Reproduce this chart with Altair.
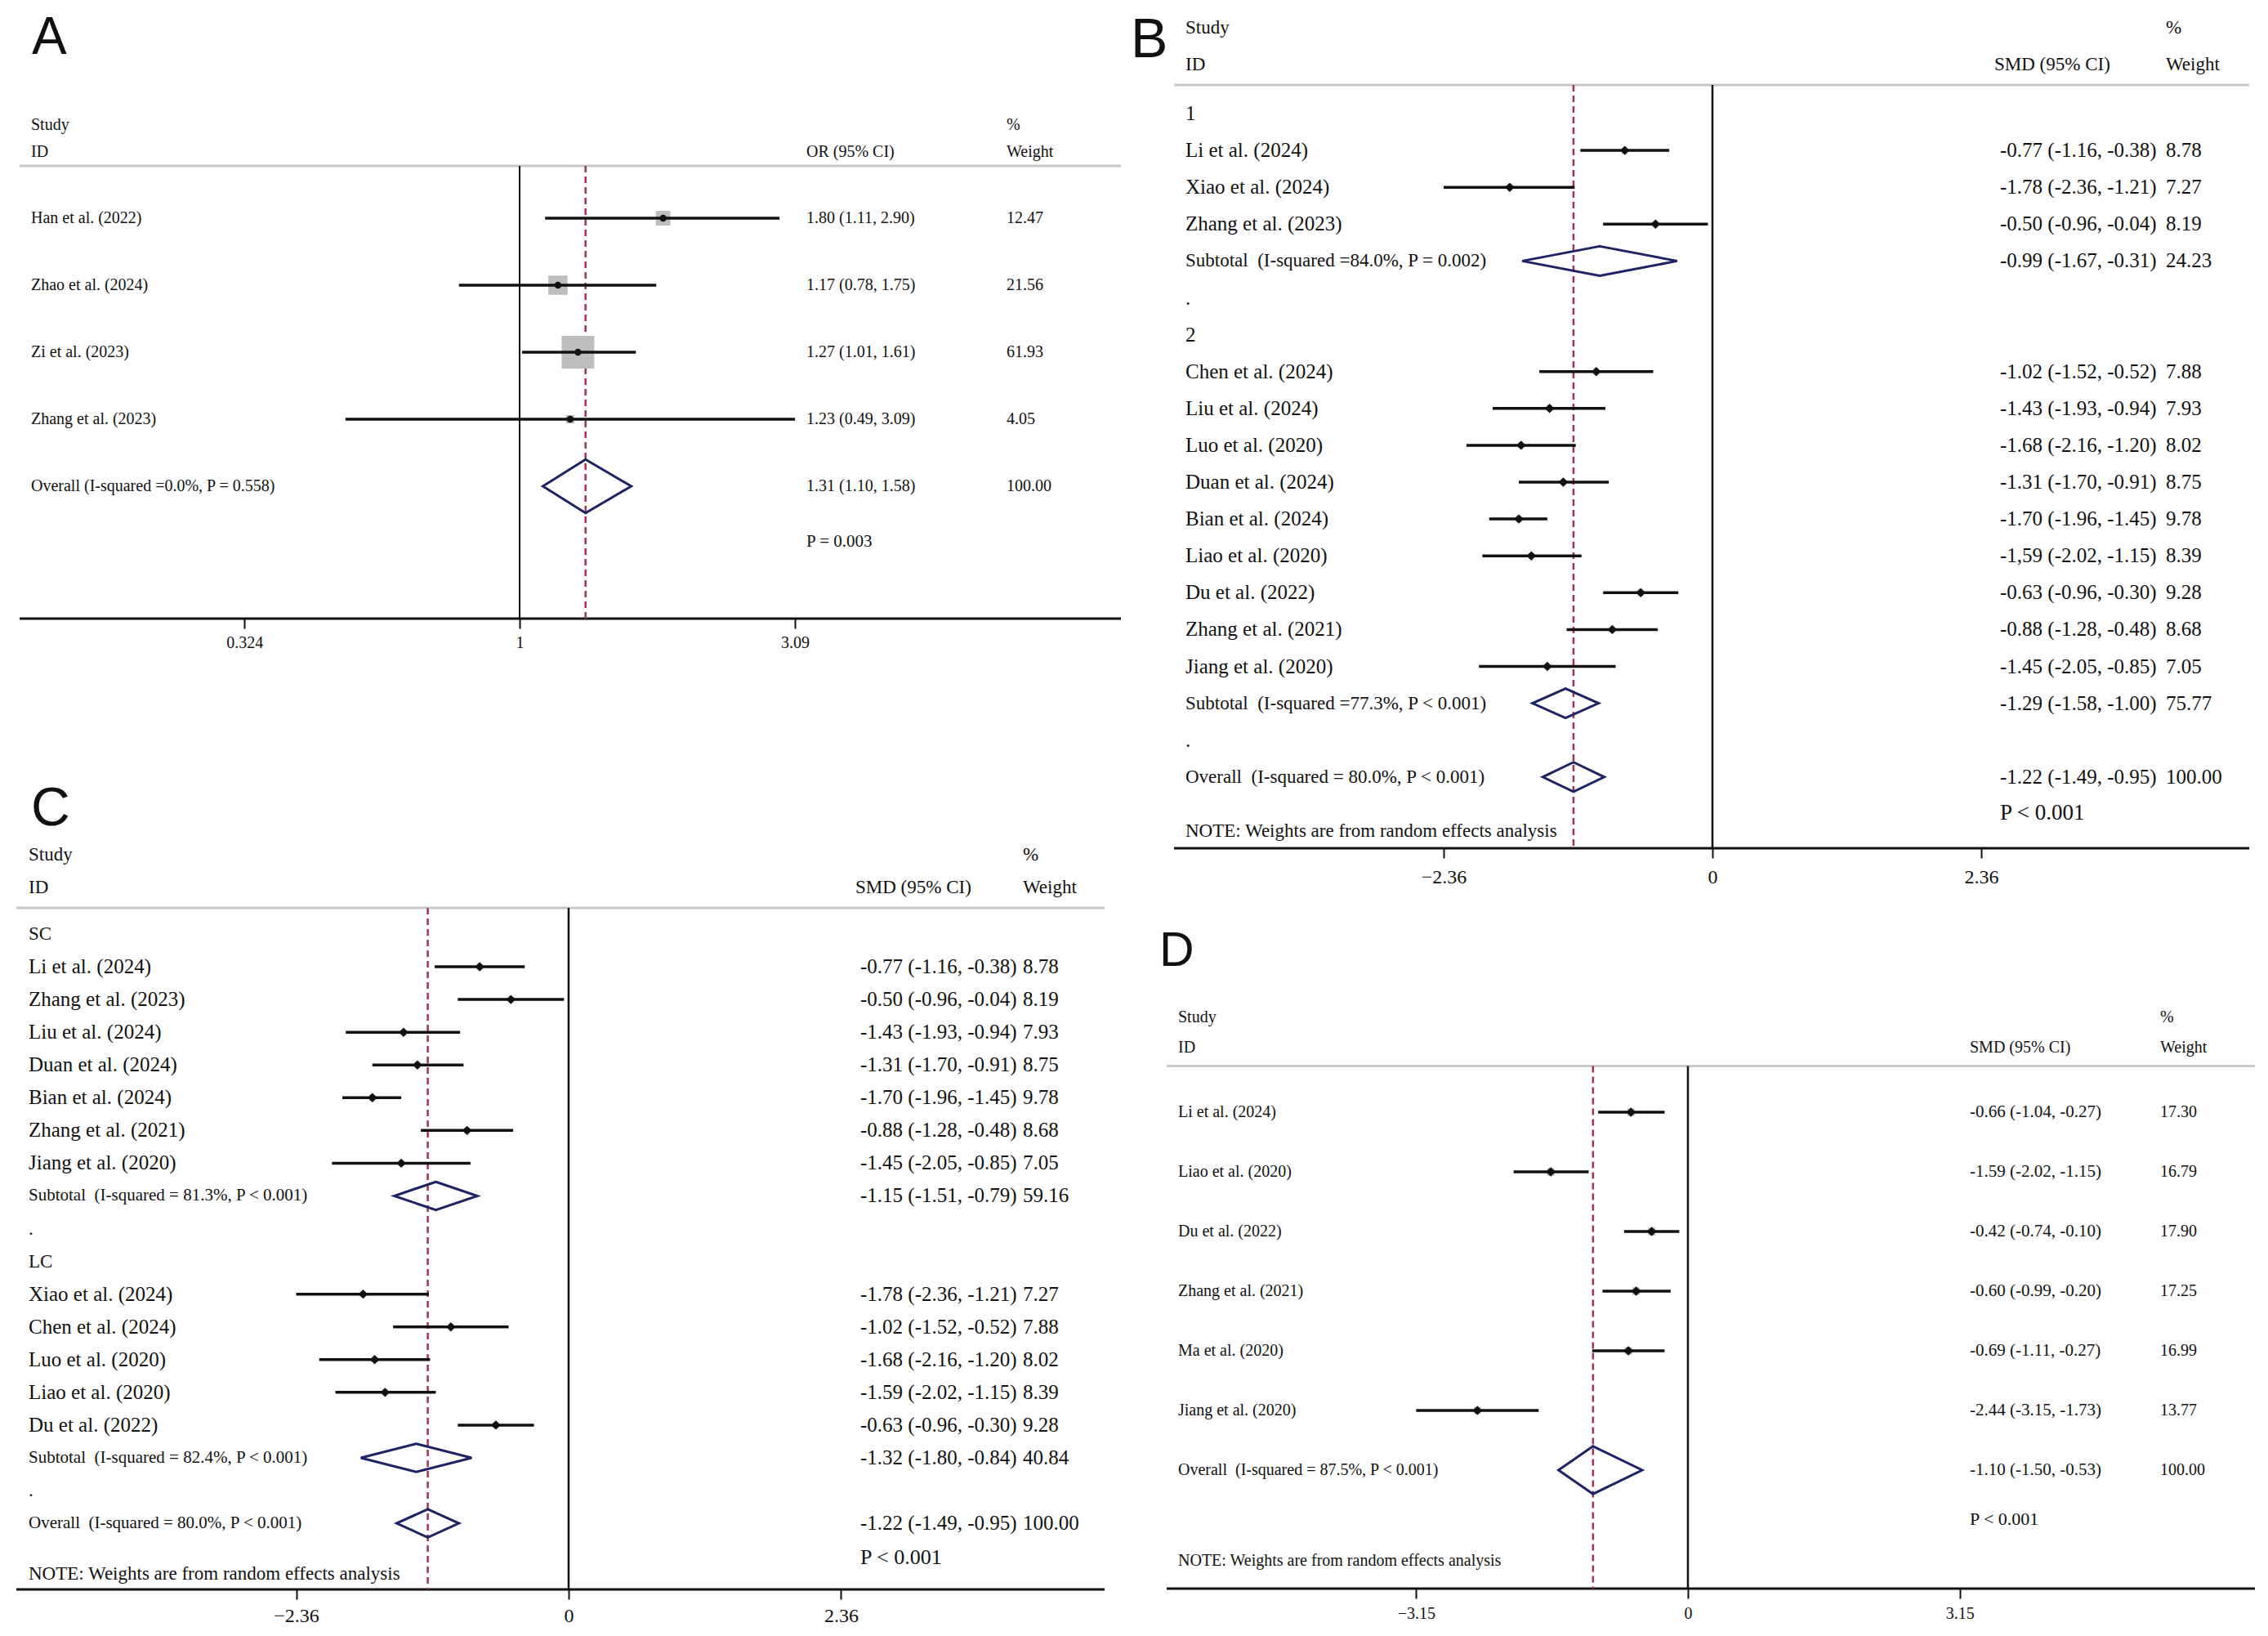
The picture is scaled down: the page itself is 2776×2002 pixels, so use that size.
import altair as alt
import pandas as pd

SERIF = "Liberation Serif"
SANS = "Liberation Sans"
INK = "#111111"
RED = "#a8324e"
NAVY = "#1d2463"
GRAYSQ = "#bdbdbd"
HEADLINE = "#c8c8c8"
NBSP2 = "\u00a0 "

# ---------------- Panel A (OR, log scale) ----------------
A_studies = ["Han et al. (2022)", "Zhao et al. (2024)", "Zi et al. (2023)", "Zhang et al. (2023)"]
A_est = [1.80, 1.17, 1.27, 1.23]
A_lo = [1.11, 0.78, 1.01, 0.49]
A_hi = [2.90, 1.75, 1.61, 3.09]
A_w = [12.47, 21.56, 61.93, 4.05]
A_overall = [1.31, 1.10, 1.58, 100.00]
A_overall_label = "Overall (I-squared =0.0%, P = 0.558)"
A_p = "P = 0.003"
A_ticks = [0.324, 1, 3.09]

# ---------------- Panel B ----------------
B_g1_studies = ["Li et al. (2024)", "Xiao et al. (2024)", "Zhang et al. (2023)"]
B_g1_est = [-0.77, -1.78, -0.50]
B_g1_lo = [-1.16, -2.36, -0.96]
B_g1_hi = [-0.38, -1.21, -0.04]
B_g1_w = [8.78, 7.27, 8.19]
B_g1_sub = [-0.99, -1.67, -0.31, 24.23]
B_g1_label = "Subtotal" + NBSP2 + "(I-squared =84.0%, P = 0.002)"
B_g2_studies = ["Chen et al. (2024)", "Liu et al. (2024)", "Luo et al. (2020)", "Duan et al. (2024)",
                "Bian et al. (2024)", "Liao et al. (2020)", "Du et al. (2022)", "Zhang et al. (2021)",
                "Jiang et al. (2020)"]
B_g2_est = [-1.02, -1.43, -1.68, -1.31, -1.70, -1.59, -0.63, -0.88, -1.45]
B_g2_lo = [-1.52, -1.93, -2.16, -1.70, -1.96, -2.02, -0.96, -1.28, -2.05]
B_g2_hi = [-0.52, -0.94, -1.20, -0.91, -1.45, -1.15, -0.30, -0.48, -0.85]
B_g2_w = [7.88, 7.93, 8.02, 8.75, 9.78, 8.39, 9.28, 8.68, 7.05]
B_g2_sub = [-1.29, -1.58, -1.00, 75.77]
B_g2_label = "Subtotal" + NBSP2 + "(I-squared =77.3%, P < 0.001)"
B_overall = [-1.22, -1.49, -0.95, 100.00]
B_overall_label = "Overall" + NBSP2 + "(I-squared = 80.0%, P < 0.001)"
B_ci_as_printed = {"Liao et al. (2020)": "-1,59 (-2.02, -1.15)"}
B_p = "P < 0.001"
B_ticks = [-2.36, 0, 2.36]

# ---------------- Panel C ----------------
C_g1_studies = ["Li et al. (2024)", "Zhang et al. (2023)", "Liu et al. (2024)", "Duan et al. (2024)",
                "Bian et al. (2024)", "Zhang et al. (2021)", "Jiang et al. (2020)"]
C_g1_est = [-0.77, -0.50, -1.43, -1.31, -1.70, -0.88, -1.45]
C_g1_lo = [-1.16, -0.96, -1.93, -1.70, -1.96, -1.28, -2.05]
C_g1_hi = [-0.38, -0.04, -0.94, -0.91, -1.45, -0.48, -0.85]
C_g1_w = [8.78, 8.19, 7.93, 8.75, 9.78, 8.68, 7.05]
C_g1_sub = [-1.15, -1.51, -0.79, 59.16]
C_g1_label = "Subtotal" + NBSP2 + "(I-squared = 81.3%, P < 0.001)"
C_g2_studies = ["Xiao et al. (2024)", "Chen et al. (2024)", "Luo et al. (2020)", "Liao et al. (2020)",
                "Du et al. (2022)"]
C_g2_est = [-1.78, -1.02, -1.68, -1.59, -0.63]
C_g2_lo = [-2.36, -1.52, -2.16, -2.02, -0.96]
C_g2_hi = [-1.21, -0.52, -1.20, -1.15, -0.30]
C_g2_w = [7.27, 7.88, 8.02, 8.39, 9.28]
C_g2_sub = [-1.32, -1.80, -0.84, 40.84]
C_g2_label = "Subtotal" + NBSP2 + "(I-squared = 82.4%, P < 0.001)"
C_overall = [-1.22, -1.49, -0.95, 100.00]
C_overall_label = "Overall" + NBSP2 + "(I-squared = 80.0%, P < 0.001)"
C_p = "P < 0.001"
C_ticks = [-2.36, 0, 2.36]

# ---------------- Panel D ----------------
D_studies = ["Li et al. (2024)", "Liao et al. (2020)", "Du et al. (2022)", "Zhang et al. (2021)",
             "Ma et al. (2020)", "Jiang et al. (2020)"]
D_est = [-0.66, -1.59, -0.42, -0.60, -0.69, -2.44]
D_lo = [-1.04, -2.02, -0.74, -0.99, -1.11, -3.15]
D_hi = [-0.27, -1.15, -0.10, -0.20, -0.27, -1.73]
D_w = [17.30, 16.79, 17.90, 17.25, 16.99, 13.77]
D_overall = [-1.10, -1.50, -0.53, 100.00]
D_overall_label = "Overall" + NBSP2 + "(I-squared = 87.5%, P < 0.001)"
D_p = "P < 0.001"
D_ticks = [-3.15, 0, 3.15]

NOTE = "NOTE: Weights are from random effects analysis"


def ci_text(e, l, h):
    return f"{e:.2f} ({l:.2f}, {h:.2f})"


def build_rows(items, fs, overrides=None):
    overrides = overrides or {}
    recs = []
    for i, it in enumerate(items):
        kind = it[0]
        r = {"row": i, "kind": kind, "label": "", "ci": "", "wt": "",
             "est": None, "lo": None, "hi": None, "w": None}
        if kind in ("group", "blank"):
            r["label"] = it[1]
            r["lfs"] = fs["group"]
        else:
            _, name, e, l, h, w = it
            r.update(label=name, est=e, lo=l, hi=h, w=w,
                     ci=overrides.get(name, ci_text(e, l, h)), wt=f"{w:.2f}")
            r["lfs"] = fs["label"] if kind == "study" else fs["pool"]
        recs.append(r)
    return pd.DataFrame(recs)


def studies(names, est, lo, hi, w):
    return [("study", n, e, l, h, ww) for n, e, l, h, ww in zip(names, est, lo, hi, w)]


def panel(df, cfg):
    W, H = cfg["W"], cfg["H"]
    xs = cfg["xscale"]
    xaxis = alt.Axis(values=cfg["ticks"], labelExpr="format(datum.value, '.3~g')",
                     domain=False, grid=False, ticks=True,
                     tickColor=INK, tickWidth=2, tickSize=12, labelFont=SERIF,
                     labelFontSize=cfg["tick_fs"], labelColor=INK, labelPadding=cfg["tick_pad"],
                     title=None, labelFlush=False, labelOverlap=False)
    ys = alt.Scale(domain=[-cfg["top"] / cfg["sp"], (H - cfg["top"]) / cfg["sp"]],
                   reverse=True, nice=False, zero=False)

    def X(f):
        return alt.X(f, type="quantitative", scale=xs, axis=xaxis)

    Y = alt.Y("row:Q", scale=ys, axis=None)
    one = pd.DataFrame({"k": [0]})
    gy = cfg["gray_y"]
    st = df[df.kind == "study"].copy()
    st["sq"] = cfg["sq_k2"] * st["w"]
    pools = df[df.kind == "pool"]
    hh = cfg["dia_h"]
    poly = []
    for j, (_, p) in enumerate(pools.iterrows()):
        pts = [(p.est, p.row - hh), (p.hi, p.row), (p.est, p.row + hh), (p.lo, p.row), (p.est, p.row - hh)]
        for k, (xv, yv) in enumerate(pts):
            poly.append({"did": j, "ord": k, "xv": xv, "row": yv})
    poly = pd.DataFrame(poly)
    overall_est = pools.iloc[-1].est

    layers = [
        alt.Chart(one).mark_rule(color=HEADLINE, strokeWidth=3).encode(
            x=alt.value(cfg["x0"]), x2=alt.value(W), y=alt.value(gy)),
        alt.Chart(one).mark_rule(color=INK, strokeWidth=3).encode(
            x=alt.value(cfg["x0"]), x2=alt.value(W), y=alt.value(H)),
        alt.Chart(pd.DataFrame({"v": [cfg["null"]]})).mark_rule(color=INK, strokeWidth=cfg["null_w"]).encode(
            x=X("v"), y=alt.value(gy), y2=alt.value(H)),
        alt.Chart(pd.DataFrame({"v": [overall_est]})).mark_rule(
            color=RED, strokeWidth=2.5, strokeDash=[8, 5]).encode(
            x=X("v"), y=alt.value(gy), y2=alt.value(H)),
        alt.Chart(st).mark_square(color=GRAYSQ, opacity=1, strokeWidth=0).encode(
            x=X("est"), y=Y, size=alt.Size("sq:Q", scale=None)),
        alt.Chart(st).mark_rule(color=INK, strokeWidth=cfg["ci_w"]).encode(
            x=X("lo"), x2=alt.X2("hi:Q"), y=Y),
        alt.Chart(st).mark_point(shape=cfg["dot_shape"], filled=True, color=INK, opacity=1,
                                 size=cfg["dot_size"]).encode(x=X("est"), y=Y),
        alt.Chart(poly).mark_line(color=NAVY, strokeWidth=3, strokeJoin="miter", strokeCap="round").encode(
            x=X("xv"), y=alt.Y("row:Q", scale=ys, axis=None), detail="did:N", order="ord:Q"),
        alt.Chart(df).mark_text(align="left", baseline="middle", font=SERIF, color=INK).encode(
            x=alt.value(cfg["label_x"]), y=Y, text="label:N", size=alt.Size("lfs:Q", scale=None)),
        alt.Chart(df[df.ci != ""]).mark_text(align="left", baseline="middle", font=SERIF, color=INK,
                                            fontSize=cfg["ci_fs"]).encode(
            x=alt.value(cfg["ci_x"]), y=Y, text="ci:N"),
        alt.Chart(df[df.wt != ""]).mark_text(align="left", baseline="middle", font=SERIF, color=INK,
                                            fontSize=cfg["wt_fs"]).encode(
            x=alt.value(cfg["wt_x"]), y=Y, text="wt:N"),
    ]
    for (txt, tx, ty, tfs) in cfg["texts"]:
        layers.append(alt.Chart(one).mark_text(align="left", baseline="middle", font=SERIF, color=INK,
                                               fontSize=tfs).encode(
            x=alt.value(tx), y=alt.value(ty), text=alt.value(txt)))
    lt, lx, lby, lfs = cfg["letter"]
    layers.append(alt.Chart(one).mark_text(align="left", baseline="alphabetic", font=SANS, color=INK,
                                           fontSize=lfs).encode(
        x=alt.value(lx), y=alt.value(lby), text=alt.value(lt)))
    return alt.layer(*layers).properties(width=W, height=H)


# ---------- A ----------
A_items = studies(A_studies, A_est, A_lo, A_hi, A_w) + [("pool", A_overall_label, *A_overall)]
A_df = build_rows(A_items, {"label": 20, "pool": 20, "group": 20})
A_cfg = dict(W=1352, H=749, x0=4, xscale=alt.Scale(type="log", domain=[0.12725, 11.742], nice=False),
             ticks=A_ticks, tick_fs=20, tick_pad=7, top=259, sp=82, gray_y=195, null=1, null_w=2,
             label_x=18, ci_x=967, wt_x=1212, ci_fs=20, wt_fs=20, sq_k2=25.8, dia_h=0.4,
             dot_shape="circle", dot_size=70, ci_w=3.5,
             texts=[("Study", 18, 145, 20), ("ID", 18, 178, 20), ("OR (95% CI)", 967, 178, 20),
                    ("%", 1212, 145, 20), ("Weight", 1212, 178, 20), (A_p, 967, 655, 21)],
             letter=("A", 19, 58, 64))
chart_A = panel(A_df, A_cfg)

# ---------- B ----------
B_items = ([("group", "1")] + studies(B_g1_studies, B_g1_est, B_g1_lo, B_g1_hi, B_g1_w)
           + [("pool", B_g1_label, *B_g1_sub), ("blank", "."), ("group", "2")]
           + studies(B_g2_studies, B_g2_est, B_g2_lo, B_g2_hi, B_g2_w)
           + [("pool", B_g2_label, *B_g2_sub), ("blank", "."), ("pool", B_overall_label, *B_overall)])
B_df = build_rows(B_items, {"label": 25, "pool": 23, "group": 25}, B_ci_as_printed)
B_cfg = dict(W=1371, H=1030, x0=55, xscale=alt.Scale(domain=[-5.122, 4.713], nice=False, zero=False),
             ticks=B_ticks, tick_fs=24, tick_pad=11, top=131, sp=45.1, gray_y=96, null=0, null_w=2.5,
             label_x=69, ci_x=1066, wt_x=1269, ci_fs=25, wt_fs=25, sq_k2=5.76, dia_h=0.4,
             dot_shape="diamond", dot_size=130, ci_w=3.5,
             texts=[("Study", 69, 26, 23), ("ID", 69, 71, 23), ("SMD (95% CI)", 1059, 71, 23),
                    ("%", 1269, 26, 23), ("Weight", 1269, 71, 23), (B_p, 1066, 987, 27),
                    (NOTE, 69, 1009, 23)],
             letter=("B", 2, 62, 68))
chart_B = panel(B_df, B_cfg)

# ---------- C ----------
C_items = ([("group", "SC")] + studies(C_g1_studies, C_g1_est, C_g1_lo, C_g1_hi, C_g1_w)
           + [("pool", C_g1_label, *C_g1_sub), ("blank", "."), ("group", "LC")]
           + studies(C_g2_studies, C_g2_est, C_g2_lo, C_g2_hi, C_g2_w)
           + [("pool", C_g2_label, *C_g2_sub), ("blank", "."), ("pool", C_overall_label, *C_overall)])
C_df = build_rows(C_items, {"label": 25, "pool": 21, "group": 23})
C_cfg = dict(W=1332, H=995, x0=0, xscale=alt.Scale(domain=[-4.784, 4.643], nice=False, zero=False),
             ticks=C_ticks, tick_fs=24, tick_pad=8, top=193, sp=40.06, gray_y=161, null=0, null_w=2.5,
             label_x=15, ci_x=1033, wt_x=1232, ci_fs=25, wt_fs=25, sq_k2=5.76, dia_h=0.43,
             dot_shape="diamond", dot_size=130, ci_w=3.5,
             texts=[("Study", 15, 96, 23), ("ID", 15, 136, 23), ("SMD (95% CI)", 1027, 136, 23),
                    ("%", 1232, 96, 23), ("Weight", 1232, 136, 23), (C_p, 1033, 956, 26),
                    (NOTE, 15, 976, 23)],
             letter=("C", 18, 60, 66))
chart_C = panel(C_df, C_cfg)

# ---------- D ----------
D_items = studies(D_studies, D_est, D_lo, D_hi, D_w) + [("pool", D_overall_label, *D_overall)]
D_df = build_rows(D_items, {"label": 20, "pool": 20, "group": 20})
D_cfg = dict(W=1378, H=814, x0=46, xscale=alt.Scale(domain=[-6.477, 6.572], nice=False, zero=False),
             ticks=D_ticks, tick_fs=20, tick_pad=8, top=231, sp=73, gray_y=174.5, null=0, null_w=2.5,
             label_x=60, ci_x=1029, wt_x=1262, ci_fs=21, wt_fs=20, sq_k2=4.84, dia_h=0.4,
             dot_shape="diamond", dot_size=130, ci_w=3.5,
             texts=[("Study", 60, 115, 20), ("ID", 60, 152, 20), ("SMD (95% CI)", 1029, 152, 20),
                    ("%", 1262, 115, 20), ("Weight", 1262, 152, 20), (D_p, 1029, 729, 22),
                    (NOTE, 60, 780, 20)],
             letter=("D", 37, 52, 59))
chart_D = panel(D_df, D_cfg)

left = alt.vconcat(chart_A, chart_C, spacing=193, bounds="flush")
right = alt.vconcat(chart_B, chart_D, spacing=92, bounds="flush")
chart = (alt.hconcat(left, right, spacing=8)
         .properties(padding={"left": 10, "top": 0, "right": 0, "bottom": 0}, background="white")
         .configure_view(stroke=None))

chart.save("out.html", embed_options={"renderer": "svg", "actions": False})
